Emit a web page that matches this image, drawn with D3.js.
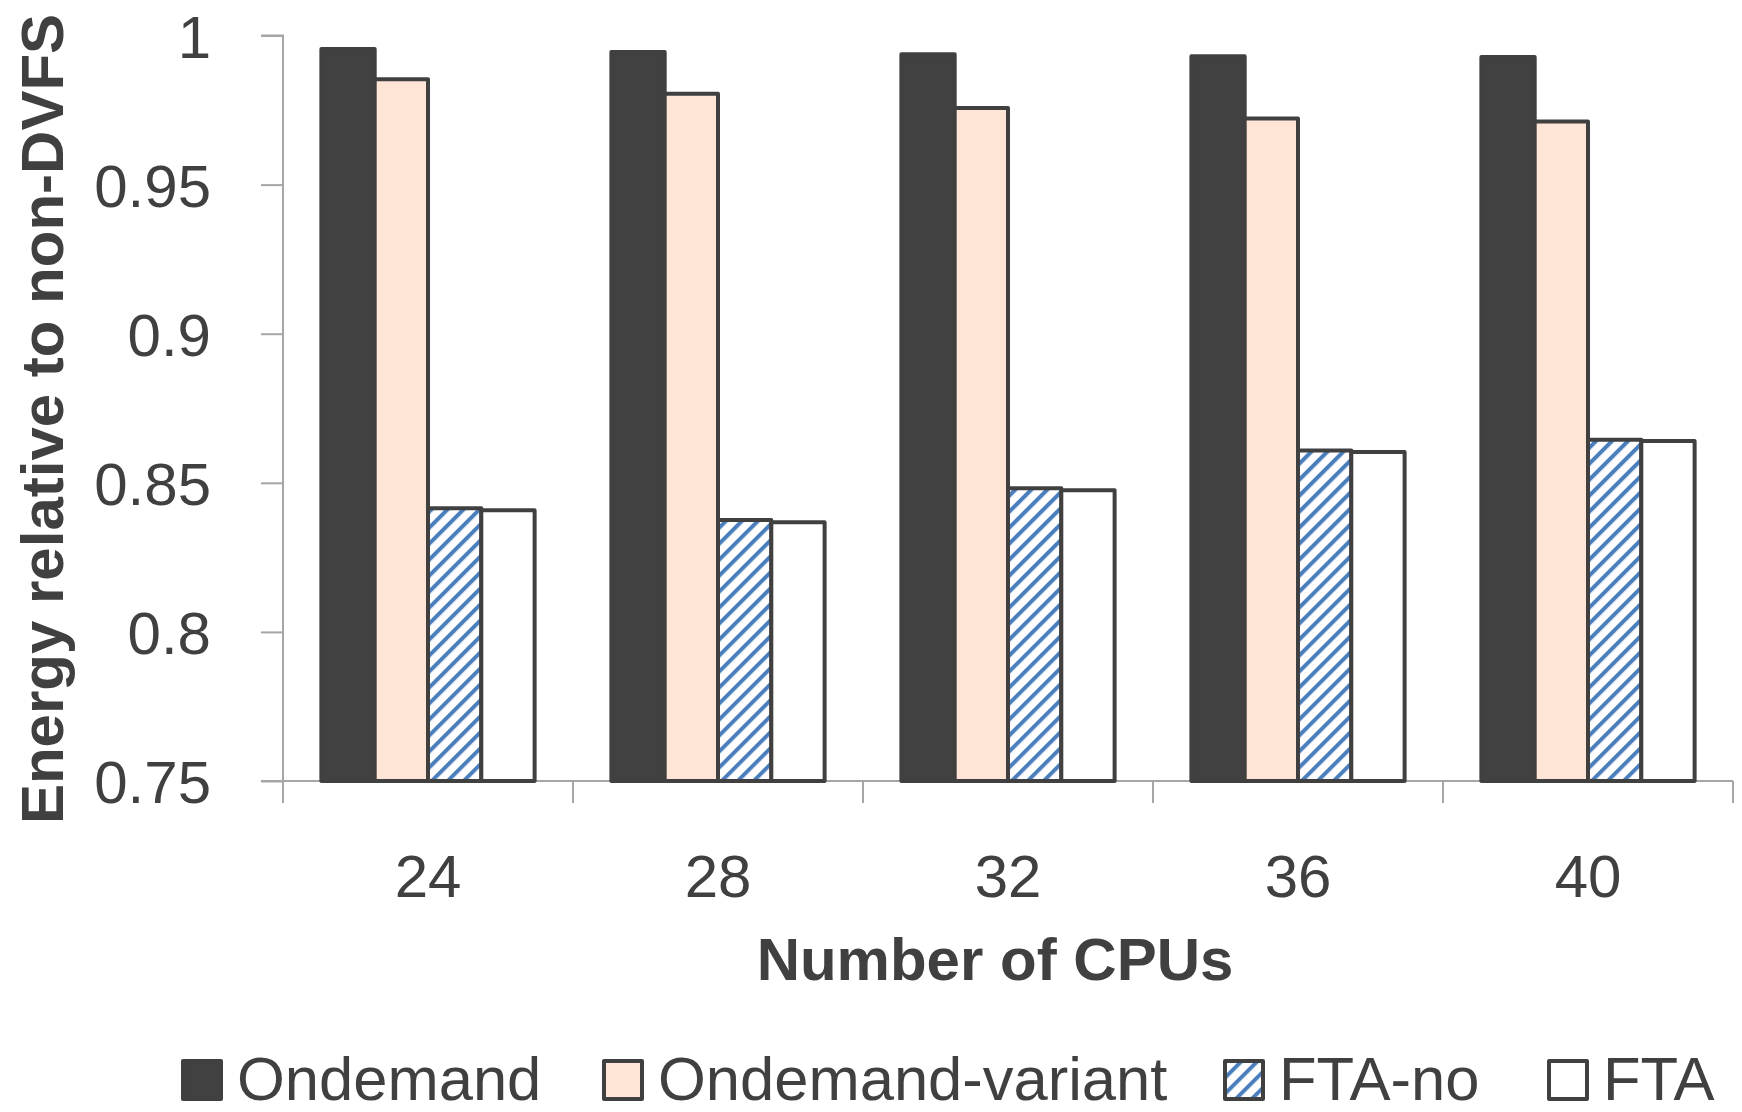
<!DOCTYPE html>
<html>
<head>
<meta charset="utf-8">
<script src="https://cdn.jsdelivr.net/npm/d3@7"></script>
<style>
  html, body { margin: 0; padding: 0; background: #fff; }
  svg { display: block; }
  text { font-family: "Liberation Sans", Arial, sans-serif; fill: #404040; }
</style>
</head>
<body>
<svg id="chart" width="1742" height="1112"></svg>
<script>
// Energy of each governor, normalised to the non-DVFS run
const cpus = ["24", "28", "32", "36", "40"];
const seriesNames = ["Ondemand", "Ondemand-variant", "FTA-no", "FTA"];
const ondemand = [0.9955, 0.9945, 0.9937, 0.9930, 0.9928];
const ondemandVariant = [0.9853, 0.9805, 0.9757, 0.9722, 0.9712];
const ftaNo = [0.8415, 0.8375, 0.8482, 0.8608, 0.8644];
const fta = [0.8408, 0.8368, 0.8475, 0.8603, 0.8640];
const yTicks = [0.75, 0.8, 0.85, 0.9, 0.95, 1];

const values = [ondemand, ondemandVariant, ftaNo, fta];

const plot = { left: 283, right: 1733, top: 35.5, bottom: 781 };
const ink = "#404040";
const axisGray = "#a6a6a6";

const svg = d3.select("#chart");

// Diagonal hatch for FTA-no
const defs = svg.append("defs");
const hatch = defs.append("pattern")
  .attr("id", "hatch")
  .attr("patternUnits", "userSpaceOnUse")
  .attr("width", 11.3).attr("height", 11.3)
  .attr("patternTransform", "rotate(45)");
hatch.append("rect").attr("width", 11.3).attr("height", 11.3).attr("fill", "#fff");
hatch.append("rect").attr("x", 0).attr("y", 0).attr("width", 4).attr("height", 11.3).attr("fill", "#4A7EBD");

const fills = ["#414141", "#FEE5D5", "url(#hatch)", "#ffffff"];

const x0 = d3.scaleBand().domain(cpus).range([plot.left, plot.right]).padding(0);
const x1 = d3.scaleBand().domain(seriesNames).range([0, x0.bandwidth()])
  .paddingInner(0).paddingOuter(0.72);
const y = d3.scaleLinear().domain([0.75, 1]).range([plot.bottom, plot.top]);

// Y axis
const yAxis = d3.axisLeft(y).tickValues(yTicks).tickSize(22).tickPadding(0)
  .tickFormat(d => d3.format("")(+d.toFixed(2)));
const gy = svg.append("g").attr("transform", `translate(${plot.left},0)`).call(yAxis);
gy.select(".domain").attr("stroke", axisGray).attr("stroke-width", 2)
  .attr("d", `M-22,${plot.top}H0V${plot.bottom}`);
gy.selectAll(".tick line").attr("stroke", axisGray).attr("stroke-width", 2);
gy.selectAll(".tick text")
  .attr("x", -72).attr("dy", "0.36em")
  .style("font-size", "60px").attr("fill", ink)
  .style("font-family", '"Liberation Sans", Arial, sans-serif');

// X axis: ticks sit on category boundaries
const bounds = cpus.map(c => x0(c)).concat([plot.right]);
const gx = svg.append("g");
gx.append("line")
  .attr("x1", plot.left - 22).attr("x2", plot.right)
  .attr("y1", plot.bottom).attr("y2", plot.bottom)
  .attr("stroke", axisGray).attr("stroke-width", 2);
gx.selectAll("line.tk").data(bounds).enter().append("line")
  .attr("class", "tk")
  .attr("x1", d => d).attr("x2", d => d)
  .attr("y1", plot.bottom).attr("y2", plot.bottom + 22)
  .attr("stroke", axisGray).attr("stroke-width", 2);
gx.selectAll("text").data(cpus).enter().append("text")
  .attr("x", d => x0(d) + x0.bandwidth() / 2)
  .attr("y", 897)
  .attr("text-anchor", "middle")
  .style("font-size", "60px")
  .text(d => d);

// Bars
const groups = svg.append("g").selectAll("g").data(cpus).enter().append("g")
  .attr("transform", d => `translate(${x0(d)},0)`);
groups.selectAll("rect")
  .data((c, i) => seriesNames.map((s, k) => ({ s, k, v: values[k][i] })))
  .enter().append("rect")
  .attr("x", d => x1(d.s))
  .attr("width", x1.bandwidth())
  .attr("y", d => y(d.v))
  .attr("height", d => y(0.75) - y(d.v))
  .attr("fill", d => fills[d.k])
  .attr("stroke", ink)
  .attr("stroke-width", 4)
  .attr("stroke-linejoin", "round");

// Axis titles
svg.append("text")
  .attr("x", 995)
  .attr("y", 980)
  .attr("text-anchor", "middle")
  .style("font-size", "60px").style("font-weight", "bold")
  .text("Number of CPUs");

svg.append("text")
  .attr("transform", `translate(63,${419}) rotate(-90)`)
  .attr("text-anchor", "middle")
  .style("font-size", "60px").style("font-weight", "bold")
  .text("Energy relative to non-DVFS");

// Legend
const legendX = [181, 602, 1223, 1547];
const legend = svg.append("g").selectAll("g").data(seriesNames).enter().append("g")
  .attr("transform", (d, i) => `translate(${legendX[i]},1061)`);
legend.append("rect")
  .attr("x", 2).attr("y", 0)
  .attr("width", 38).attr("height", 38)
  .attr("fill", (d, i) => fills[i])
  .attr("stroke", ink).attr("stroke-width", 4)
  .attr("stroke-linejoin", "round");
legend.append("text")
  .attr("x", 56).attr("y", 39)
  .style("font-size", "61.5px")
  .text(d => d);
</script>
</body>
</html>
